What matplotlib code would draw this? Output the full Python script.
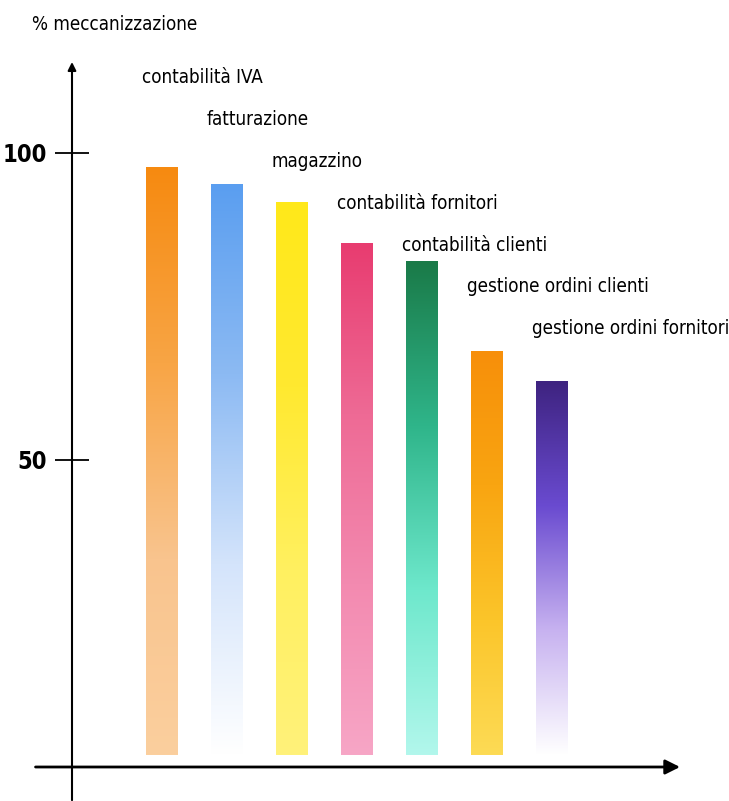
import numpy as np
import matplotlib
matplotlib.use('Agg')
import matplotlib.pyplot as plt
from matplotlib.colors import LinearSegmentedColormap

plt.rcParams['font.family'] = ['DejaVu Sans']
plt.rcParams['font.stretch'] = 'condensed'

categories = ['contabilità IVA', 'fatturazione', 'magazzino', 'contabilità fornitori',
              'contabilità clienti', 'gestione ordini clienti', 'gestione ordini fornitori']
values = [97.7, 95, 92, 85.3, 82.4, 67.8, 62.9]
yticks = [50, 100]
ylabel = '% meccanizzazione'

# colour stops top -> bottom for each bar
gradients = [
    ['#f68a10', '#f8a545', '#f9c48e', '#fbcf9e'],
    ['#5a9ef0', '#8cbaf3', '#d4e4fb', '#ffffff'],
    ['#ffe81a', '#ffe930', '#fff060', '#fff27a'],
    ['#e83c70', '#ee6a95', '#f38ab0', '#f7a6c6'],
    ['#1a7a48', '#2fb58a', '#6ee8cc', '#b2f7ec'],
    ['#f78f0a', '#f9a511', '#fbc52a', '#fddb55'],
    ['#3e2380', '#6a4bd0', '#c7b2f0', '#ffffff'],
]

fig = plt.figure(figsize=(7.29, 8.01), dpi=100)
ax = fig.add_axes([72 / 729, 34 / 801, 608 / 729, 705 / 801])

x = np.arange(len(values))
bottom = 2
bars = ax.bar(x, np.array(values) - bottom, bottom=bottom, width=0.49, color='none',
              linewidth=0)

for bar, stops in zip(bars, gradients):
    cmap = LinearSegmentedColormap.from_list('g', stops)
    grad = np.linspace(0, 1, 256).reshape(-1, 1)
    x0, y0 = bar.get_x(), bar.get_y()
    im = ax.imshow(grad, cmap=cmap, aspect='auto', interpolation='bilinear',
                   extent=[x0, x0 + bar.get_width(), y0, y0 + bar.get_height()],
                   origin='upper')
    im.set_clip_path(bar)

for i, (bar, label) in enumerate(zip(bars, categories)):
    ax.text(bar.get_x() - 0.06, 112.2 - 6.8 * i, label, fontsize=13.5,
            ha='left', va='center')

ax.set_xlim(-1.38, 7.97)
ax.set_ylim(0, 114.8)
for s in ax.spines.values():
    s.set_visible(False)
ax.set_xticks([])
ax.set_yticks(yticks)
ax.set_yticklabels([str(t) for t in yticks], fontsize=17, fontweight='bold')
ax.tick_params(axis='y', direction='inout', length=24, width=1.3, pad=6)

# axes with arrows
ax.annotate('', xy=(0, 1.0), xytext=(0, -0.047), xycoords='axes fraction',
            arrowprops=dict(arrowstyle='-|>', lw=1.5, color='black',
                            mutation_scale=12, shrinkA=0, shrinkB=0))
ax.annotate('', xy=(1.0, 0), xytext=(-0.06, 0), xycoords='axes fraction',
            arrowprops=dict(arrowstyle='-|>', lw=2, color='black',
                            mutation_scale=22, shrinkA=0, shrinkB=0))

fig.text(32 / 729, 1 - 25 / 801, ylabel, fontsize=13.5, ha='left', va='center')

fig.savefig('out.png', dpi=100)
